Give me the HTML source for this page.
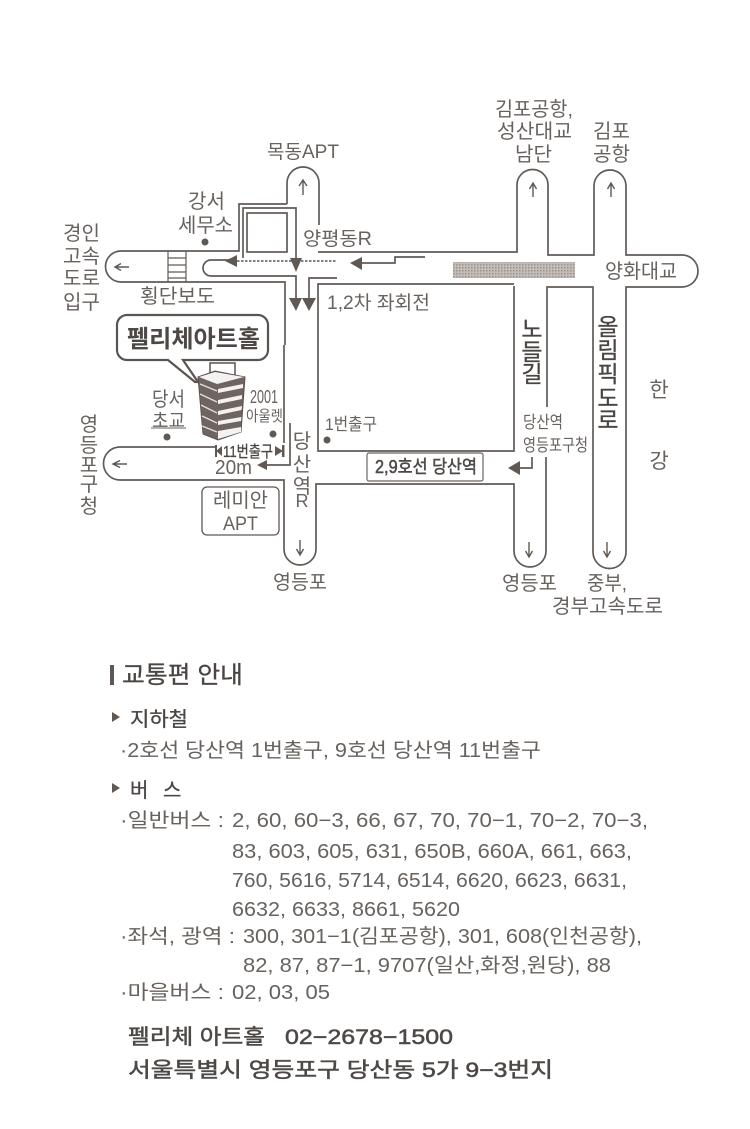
<!DOCTYPE html>
<html lang="ko">
<head>
<meta charset="utf-8">
<title>교통편 안내</title>
<style>
html,body{margin:0;padding:0;background:#fff}
svg{display:block}
text{font-family:"Liberation Sans","Noto Sans CJK KR",sans-serif;fill:#68625e}
.b{fill:#4d4845;stroke:#4d4845;stroke-width:.5}
.c{font-weight:700;fill:#4d4845}
.d{fill:#4a4542;stroke:#4a4542;stroke-width:.3}
</style>
</head>
<body>
<svg xmlns="http://www.w3.org/2000/svg" width="750" height="1129" viewBox="0 0 750 1129">
<defs>
<pattern id="h" width="3" height="3" patternUnits="userSpaceOnUse"><rect width="3" height="3" fill="#c4bdb7"/><rect width="1.5" height="1.5" fill="#9d948e"/></pattern>
</defs>
<rect width="750" height="1129" fill="#fff"/>

<!-- roads -->
<g fill="none" stroke="#615b57" stroke-width="1.700">
<path d="M287 204V183A16 16 0 0 1 319 183V225"/>
<path d="M318 252H517V185A15.500 15.500 0 0 1 548 185V255H594V186A16 16 0 0 1 626 186V255H682A16 16 0 0 1 682 287H626V552A16 16 0 0 1 593 552V287H547V407"/>
<path d="M546 457V551A16 16 0 0 1 514 551V484H316V549A16 16 0 0 1 284 549V480H120A16.500 16.500 0 0 1 120 447H215"/>
<path d="M287 204H239V251H121A15.500 15.500 0 0 0 121 282H285V345"/>
<path d="M284 345V443"/>
<path d="M514 286V451H318V284H514"/>
<path d="M243 258V208H296V262"/>
<rect x="247" y="213" width="40" height="39"/>
<path d="M237 260H211A8 8 0 0 0 211 276H296V300"/>
<path d="M309 300V278H337"/>
<path d="M290 423V465H266"/>
<path d="M168 251V282M186 251V282M168 258H186M168 265H186M168 272H186M168 278H186" stroke-width="1.200"/>
<path d="M362 263H395V257H425"/>
<path d="M520 468H532V457"/>
</g>
<path d="M237 261H337" stroke="#5c5652" stroke-width="1.500" stroke-dasharray="2.500 1.500" fill="none"/>
<rect x="453" y="262" width="122" height="16" fill="url(#h)"/>

<!-- heavy arrowheads -->
<g fill="#5f5853">
<path d="M225 261L237 255V267Z"/>
<path d="M290 258H302L296 272Z"/>
<path d="M350 263L362 257V270Z"/>
<path d="M289 298H302L296 311Z"/>
<path d="M302 298H316L309 311Z"/>
<path d="M257 465L267 460V470Z"/>
<path d="M508 468L520 461V475Z"/>
<path d="M216 451L222 446V456Z"/>
<rect x="215" y="445" width="2" height="12"/>
<path d="M283 451L275 446V456Z"/>
<rect x="282" y="445" width="2.500" height="12"/>
</g>

<!-- small arrows -->
<g fill="none" stroke="#5f5853" stroke-width="1.400">
<path d="M303 195V181M299 186L303 180L307 186"/>
<path d="M533 197V184M529.500 189L533 183L536.500 189"/>
<path d="M611 197V184M607.500 189L611 183L614.500 189"/>
<path d="M129 267H116M121 263.500L115 267L121 270.500"/>
<path d="M127 464H114M120 460.500L113 464L120 467.500"/>
<path d="M300 540V554M296.500 549L300 555L303.500 549"/>
<path d="M529 542V556M525.500 551L529 557L532.500 551"/>
<path d="M607 542V556M603.500 551L607 557L610.500 551"/>
</g>

<!-- dots -->
<g fill="#5f5853">
<circle cx="205" cy="242" r="3.500"/>
<circle cx="167" cy="437" r="3.500"/>
<circle cx="273" cy="434" r="3.500"/>
<circle cx="327" cy="440" r="3.500"/>
</g>

<!-- callout -->
<path d="M127 315H258A10 10 0 0 1 268 325V350A10 10 0 0 1 258 360H183L198 382L195 382L168 360H127A10 10 0 0 1 117 350V325A10 10 0 0 1 127 315Z" fill="#fff" stroke="#5a5450" stroke-width="2.200"/>
<text x="127" y="347" font-size="24" class="c" textLength="133" lengthAdjust="spacingAndGlyphs">펠리체아트홀</text>

<!-- building -->
<rect x="210" y="363" width="25" height="13" fill="#fff" stroke="#5a5450" stroke-width="1.500"/>
<path d="M198 377L215 371L245 377L241 432L218 440L203 434Z" fill="#6e6560" stroke="#5a5450" stroke-width="1"/>
<path d="M199 377L215 372L244 377L217 384Z" fill="#f4f2f0"/>
<g fill="#f4f2f0">
<path d="M218 389L243 384L243 388L218 393Z"/>
<path d="M218 400L242 395L242 399L218 404Z"/>
<path d="M218 411L242 406L241.500 410L218 415Z"/>
<path d="M218 421L241.500 417L241 421L218 425Z"/>
<path d="M218 431L241 427L241 432L218 439Z"/>
</g>
<g stroke="#e6e1dd" stroke-width="1.300" fill="none">
<path d="M200 384L217 391M200 394L217 402M201 405L217 413M202 416L217 423M202 426L217 432"/>
</g>

<!-- top labels -->
<text x="267" y="158" font-size="19" textLength="72" lengthAdjust="spacingAndGlyphs">목동APT</text>
<text x="495" y="116" font-size="20" textLength="78" lengthAdjust="spacingAndGlyphs">김포공항,</text>
<text x="497" y="138" font-size="20" textLength="75" lengthAdjust="spacingAndGlyphs">성산대교</text>
<text x="515" y="161" font-size="20" textLength="37" lengthAdjust="spacingAndGlyphs">남단</text>
<text x="593" y="138" font-size="20" textLength="37" lengthAdjust="spacingAndGlyphs">김포</text>
<text x="593" y="161" font-size="20" textLength="37" lengthAdjust="spacingAndGlyphs">공항</text>
<text x="605" y="278" font-size="20" textLength="72" lengthAdjust="spacingAndGlyphs">양화대교</text>
<text x="327" y="309" font-size="19" textLength="103" lengthAdjust="spacingAndGlyphs">1,2차 좌회전</text>
<text x="303" y="245" font-size="19" textLength="69" lengthAdjust="spacingAndGlyphs">양평동R</text>
<text x="188" y="208" font-size="20" textLength="37" lengthAdjust="spacingAndGlyphs">강서</text>
<text x="178" y="232" font-size="20" textLength="55" lengthAdjust="spacingAndGlyphs">세무소</text>
<text x="63" y="240" font-size="20" textLength="37" lengthAdjust="spacingAndGlyphs">경인</text>
<text x="63" y="263" font-size="20" textLength="37" lengthAdjust="spacingAndGlyphs">고속</text>
<text x="63" y="285" font-size="20" textLength="37" lengthAdjust="spacingAndGlyphs">도로</text>
<text x="63" y="309" font-size="20" textLength="37" lengthAdjust="spacingAndGlyphs">입구</text>
<text x="140" y="303" font-size="20" textLength="75" lengthAdjust="spacingAndGlyphs">횡단보도</text>

<!-- left labels -->
<text x="152" y="406" font-size="20" textLength="33" lengthAdjust="spacingAndGlyphs">당서</text>
<text x="152" y="427" font-size="19" textLength="33" lengthAdjust="spacingAndGlyphs">초교</text>
<path d="M151 428H186" stroke="#68625e" stroke-width="1"/>
<text x="250" y="403" font-size="18" textLength="28" lengthAdjust="spacingAndGlyphs">2001</text>
<text x="246" y="421" font-size="15" textLength="37" lengthAdjust="spacingAndGlyphs">아울렛</text>
<text x="223" y="457" font-size="16" class="d" textLength="50" lengthAdjust="spacingAndGlyphs">11번출구</text>
<text x="215" y="474" font-size="20" textLength="37" lengthAdjust="spacingAndGlyphs">20m</text>
<g text-anchor="middle" font-size="20">
<text x="89" y="431">영</text><text x="89" y="452">등</text><text x="89" y="472">포</text><text x="89" y="491">구</text><text x="89" y="513">청</text>
<text x="302" y="448">당</text><text x="302" y="471">산</text><text x="302" y="493">역</text><text x="302" y="507" font-size="18">R</text>
<text x="659" y="397" font-size="21">한</text><text x="659" y="468" font-size="21">강</text>
</g>
<rect x="202" y="487" width="77" height="48" rx="5" fill="#fff" stroke="#5f5853" stroke-width="1.300"/>
<text x="213" y="507" font-size="20" textLength="55" lengthAdjust="spacingAndGlyphs">레미안</text>
<text x="223" y="530" font-size="19" textLength="35" lengthAdjust="spacingAndGlyphs">APT</text>
<text x="273" y="589" font-size="20" textLength="54" lengthAdjust="spacingAndGlyphs">영등포</text>
<text x="325" y="430" font-size="17" textLength="52" lengthAdjust="spacingAndGlyphs">1번출구</text>

<!-- station -->
<rect x="367" y="453" width="116" height="28" rx="2" fill="#fff" stroke="#6b6460" stroke-width="1.200"/>
<text x="375" y="473" font-size="18" class="b" textLength="102" lengthAdjust="spacingAndGlyphs">2,9호선 당산역</text>
<text x="523" y="428" font-size="17" textLength="40" lengthAdjust="spacingAndGlyphs">당산역</text>
<text x="523" y="451" font-size="17" textLength="65" lengthAdjust="spacingAndGlyphs">영등포구청</text>
<text x="502" y="590" font-size="20" textLength="55" lengthAdjust="spacingAndGlyphs">영등포</text>
<text x="587" y="590" font-size="20" textLength="40" lengthAdjust="spacingAndGlyphs">중부,</text>
<text x="552" y="613" font-size="20" textLength="111" lengthAdjust="spacingAndGlyphs">경부고속도로</text>

<!-- vertical road names -->
<g text-anchor="middle" font-size="23">
<text class="d" x="532" y="337">노</text><text class="d" x="532" y="360">들</text><text class="d" x="532" y="382">길</text>
<text class="d" x="608" y="335">올</text><text class="d" x="608" y="358">림</text><text class="d" x="608" y="382">픽</text><text class="d" x="608" y="406">도</text><text class="d" x="608" y="428">로</text>
</g>

<!-- guide -->
<rect x="110" y="665" width="4" height="20" fill="#5f5853"/>
<text x="122" y="683" font-size="24" class="d" textLength="121" lengthAdjust="spacingAndGlyphs">교통편 안내</text>
<path d="M112 712V722L120 717Z" fill="#5f5853"/>
<text x="130" y="726" font-size="20" class="d" textLength="58" lengthAdjust="spacingAndGlyphs">지하철</text>
<text x="120" y="757" font-size="20" textLength="421" lengthAdjust="spacingAndGlyphs">·2호선 당산역 1번출구, 9호선 당산역 11번출구</text>
<path d="M112 783V793L120 788Z" fill="#5f5853"/>
<text x="130" y="797" font-size="20" class="d">버</text>
<text x="163" y="797" font-size="20" class="d">스</text>

<text x="120" y="827" font-size="20" textLength="104" lengthAdjust="spacingAndGlyphs">·일반버스 :</text>
<text x="232" y="827" font-size="20" textLength="416" lengthAdjust="spacingAndGlyphs">2, 60, 60−3, 66, 67, 70, 70−1, 70−2, 70−3,</text>
<text x="232" y="858" font-size="20" textLength="400" lengthAdjust="spacingAndGlyphs">83, 603, 605, 631, 650B, 660A, 661, 663,</text>
<text x="232" y="887" font-size="20" textLength="395" lengthAdjust="spacingAndGlyphs">760, 5616, 5714, 6514, 6620, 6623, 6631,</text>
<text x="232" y="916" font-size="20" textLength="228" lengthAdjust="spacingAndGlyphs">6632, 6633, 8661, 5620</text>
<text x="120" y="943" font-size="20" textLength="115" lengthAdjust="spacingAndGlyphs">·좌석, 광역 :</text>
<text x="243" y="943" font-size="20" textLength="399" lengthAdjust="spacingAndGlyphs">300, 301−1(김포공항), 301, 608(인천공항),</text>
<text x="243" y="972" font-size="20" textLength="368" lengthAdjust="spacingAndGlyphs">82, 87, 87−1, 9707(일산,화정,원당), 88</text>
<text x="120" y="999" font-size="20" textLength="104" lengthAdjust="spacingAndGlyphs">·마을버스 :</text>
<text x="232" y="999" font-size="20" textLength="98" lengthAdjust="spacingAndGlyphs">02, 03, 05</text>

<text x="128" y="1044" font-size="21" class="b" textLength="137" lengthAdjust="spacingAndGlyphs">펠리체 아트홀</text>
<text x="285" y="1044" font-size="21" class="b" textLength="168" lengthAdjust="spacingAndGlyphs">02−2678−1500</text>
<text x="128" y="1077" font-size="21" class="b" textLength="425" lengthAdjust="spacingAndGlyphs">서울특별시 영등포구 당산동 5가 9−3번지</text>
</svg>
</body>
</html>
